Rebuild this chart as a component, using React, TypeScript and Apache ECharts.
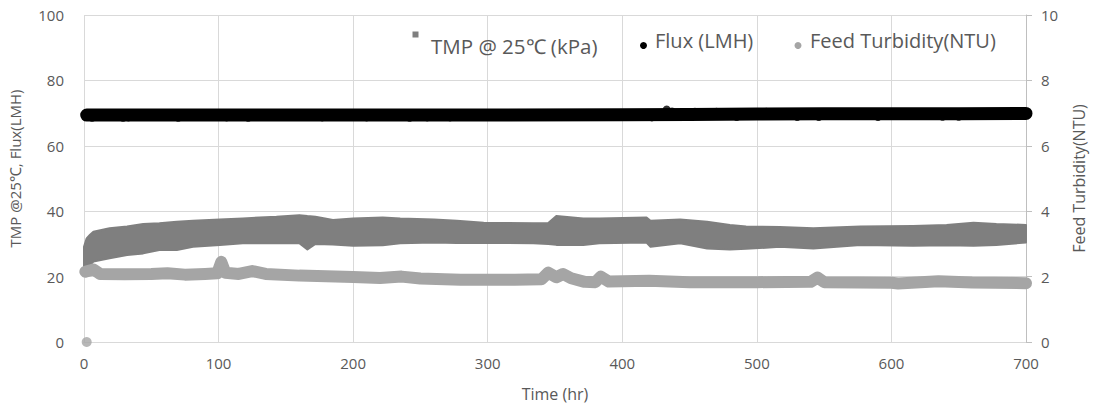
import React, { useEffect, useRef } from "react";
import * as echarts from "echarts";

// ---- data ----
const xTickValues = [0, 100, 200, 300, 400, 500, 600, 700];

// TMP @ 25℃ (kPa): dense scatter drawn as its upper / lower envelope
const tmpTime = [0, 2, 4.5, 7, 19, 32, 44, 56, 69, 81, 101, 118, 143, 160, 166, 172, 185, 200, 222, 235, 260, 277, 297, 334, 345, 351, 371, 383, 418, 421, 443, 463, 480, 492, 517, 542, 577, 616, 641, 661, 678, 700];
const tmpUpper = [29.1, 31.7, 32.8, 33.7, 34.8, 35.3, 36.1, 36.3, 36.8, 37.1, 37.5, 37.8, 38.3, 38.8, 38.5, 38.3, 37.3, 37.8, 38.1, 37.8, 37.5, 37.1, 36.5, 36.3, 36.4, 38.5, 37.8, 37.8, 38.1, 37.1, 37.5, 36.8, 35.8, 35.3, 35.2, 34.8, 35.3, 35.5, 35.8, 36.5, 36.1, 35.8];
const tmpLower = [21.5, 22.6, 23.5, 24.6, 25.6, 26.6, 27.1, 28.1, 28.1, 29.1, 29.7, 30.2, 30.2, 30.2, 28.3, 30.0, 29.8, 29.4, 29.6, 30.2, 30.4, 30.3, 30.3, 30.2, 30.0, 29.7, 29.7, 30.2, 30.4, 29.1, 30.2, 28.6, 28.3, 28.5, 29.1, 28.6, 29.7, 29.4, 29.6, 29.4, 29.7, 30.4];

// Flux (LMH)
const fluxTime = [2, 100, 200, 300, 400, 450, 500, 550, 600, 650, 700];
const fluxValues = [69.4, 69.4, 69.4, 69.4, 69.5, 69.6, 69.7, 69.8, 69.8, 69.8, 69.9];
// Flux points that stick out of the band
const fluxOffTime = [6, 29, 33, 70, 106, 122, 177, 210, 242, 255, 272, 422, 433, 437, 454, 470, 485, 507, 530, 546, 590, 638, 650];
const fluxOffValues = [68.6, 68.6, 68.7, 68.6, 68.7, 68.6, 68.7, 68.7, 68.6, 68.7, 68.7, 68.7, 71.1, 70.5, 70.4, 70.4, 68.8, 70.4, 68.8, 68.8, 68.8, 68.9, 68.9];

// Feed Turbidity (NTU)
const turbTime = [1, 7, 12, 30, 50, 62, 75, 90, 99, 102, 105, 115, 125, 135, 160, 180, 200, 220, 236, 250, 280, 320, 340, 345, 351, 356, 362, 372, 380, 384, 390, 420, 450, 500, 540, 545, 550, 600, 605, 635, 660, 700];
const turbValues = [2.15, 2.22, 2.08, 2.07, 2.08, 2.1, 2.06, 2.08, 2.1, 2.45, 2.12, 2.08, 2.17, 2.08, 2.03, 2.01, 1.99, 1.96, 2.0, 1.94, 1.9, 1.9, 1.92, 2.12, 1.98, 2.08, 1.95, 1.84, 1.83, 2.0, 1.85, 1.87, 1.83, 1.83, 1.84, 1.97, 1.83, 1.81, 1.79, 1.86, 1.82, 1.8];
const turbStartTime = [2];
const turbStartValues = [0];

const leftTicks = [0, 20, 40, 60, 80, 100];
const rightTicks = [0, 2, 4, 6, 8, 10];

const NAME_TMP = "TMP @ 25℃ (kPa)";
const NAME_FLUX = "Flux (LMH)";
const NAME_TURB = "Feed Turbidity(NTU)";

const FONT = "Open Sans";
const TXT = "#595959";
const GRID = "#d9d9d9";
const C_TMP = "#7f7f7f";
const C_FLUX = "#000000";
const C_TURB = "#a5a5a5";

const zip = (a: number[], b: number[]) => a.map((v, i) => [v, b[i]]);

function iconLegend(name: string, icon: string, size: number, left: number, top: number) {
  return {
    data: [{ name, icon }],
    left,
    top,
    padding: 0,
    itemWidth: size,
    itemHeight: size,
    selectedMode: false,
    formatter: () => " ",
    textStyle: { fontFamily: FONT, fontSize: 5, color: TXT },
  };
}

function textLegend(name: string, left: number, top: number, fontSize: number) {
  return {
    data: [{ name, icon: "none" }],
    left,
    top,
    padding: 0,
    itemWidth: 1,
    itemHeight: 1,
    selectedMode: false,
    textStyle: { fontFamily: FONT, fontSize, color: TXT },
  };
}

export default function App() {
  const ref = useRef<HTMLDivElement>(null);
  useEffect(() => {
    if (!ref.current) return;
    const chart = echarts.init(ref.current, undefined, { renderer: "svg" });
    const option: any = {
      animation: false,
      backgroundColor: "#ffffff",
      textStyle: { fontFamily: FONT },
      grid: { left: 84, right: 67, top: 15, bottom: 65, outerBoundsMode: "none", containLabel: false },
      legend: [
        iconLegend(NAME_TMP, "rect", 6, 412.5, 31.5),
        textLegend(NAME_TMP, 425, 35, 20.5),
        iconLegend(NAME_FLUX, "circle", 7, 640, 42),
        textLegend(NAME_FLUX, 649, 30, 20),
        iconLegend(NAME_TURB, "circle", 7, 794.5, 42),
        textLegend(NAME_TURB, 804, 30, 20),
      ],
      xAxis: {
        type: "value",
        min: xTickValues[0],
        max: xTickValues[xTickValues.length - 1],
        interval: 100,
        name: "Time (hr)",
        nameLocation: "middle",
        nameGap: 44,
        nameTextStyle: { fontFamily: FONT, fontSize: 16, color: TXT },
        axisLine: { show: true, lineStyle: { color: GRID, width: 1 } },
        axisTick: { show: false },
        axisLabel: { fontFamily: FONT, fontSize: 15, color: TXT, margin: 13 },
        splitLine: { show: true, lineStyle: { color: GRID, width: 1 } },
      },
      yAxis: [
        {
          type: "value",
          min: leftTicks[0],
          max: leftTicks[leftTicks.length - 1],
          interval: 20,
          name: "TMP @25℃, Flux(LMH)",
          nameLocation: "middle",
          nameGap: 62,
          nameRotate: 90,
          nameTextStyle: { fontFamily: FONT, fontSize: 15, color: TXT, padding: [0, 0, 0, 20] },
          axisLine: { show: false },
          axisTick: { show: false },
          axisLabel: { fontFamily: FONT, fontSize: 15, color: TXT, margin: 20 },
          splitLine: { show: true, lineStyle: { color: GRID, width: 1 } },
        },
        {
          type: "value",
          position: "right",
          min: rightTicks[0],
          max: rightTicks[rightTicks.length - 1],
          interval: 2,
          name: "Feed Turbidity(NTU)",
          nameLocation: "middle",
          nameGap: 45,
          nameRotate: 90,
          nameTextStyle: { fontFamily: FONT, fontSize: 16, color: TXT },
          axisLine: { show: true, lineStyle: { color: "#bfbfbf", width: 1 } },
          axisTick: { show: true, length: 6, inside: false, lineStyle: { color: "#bfbfbf" } },
          axisLabel: { fontFamily: FONT, fontSize: 15, color: TXT, margin: 15 },
          splitLine: { show: false },
        },
      ],
      series: [
        {
          name: NAME_TMP,
          type: "custom",
          data: tmpTime.map((t, i) => [t, tmpLower[i], tmpUpper[i]]),
          encode: { x: 0, y: [1, 2] },
          itemStyle: { color: C_TMP },
          z: 2,
          renderItem: (params: any, api: any) => {
            if (params.dataIndex !== 0) return null;
            const pts: number[][] = [];
            for (let i = 0; i < tmpTime.length; i++) pts.push(api.coord([tmpTime[i], tmpUpper[i]]));
            for (let i = tmpTime.length - 1; i >= 0; i--) pts.push(api.coord([tmpTime[i], tmpLower[i]]));
            return {
              type: "polygon",
              shape: { points: pts },
              style: { fill: C_TMP, stroke: C_TMP, lineWidth: 2, lineJoin: "round" },
            };
          },
        },
        {
          name: NAME_FLUX,
          type: "line",
          data: zip(fluxTime, fluxValues),
          symbol: "none",
          clip: false,
          lineStyle: { color: C_FLUX, width: 13, cap: "round", join: "round" },
          itemStyle: { color: C_FLUX },
          z: 3,
        },
        {
          name: "fluxPoints",
          type: "scatter",
          data: zip(fluxOffTime, fluxOffValues),
          symbol: "circle",
          symbolSize: 8,
          clip: false,
          itemStyle: { color: C_FLUX },
          z: 3,
        },
        {
          name: NAME_TURB,
          type: "line",
          yAxisIndex: 1,
          data: zip(turbTime, turbValues),
          symbol: "none",
          clip: false,
          lineStyle: { color: C_TURB, width: 12, cap: "round", join: "round" },
          itemStyle: { color: C_TURB },
          z: 4,
        },
        {
          name: "turbStart",
          type: "scatter",
          yAxisIndex: 1,
          data: zip(turbStartTime, turbStartValues),
          symbol: "circle",
          symbolSize: 10,
          clip: false,
          itemStyle: { color: C_TURB },
          z: 4,
        },
      ],
    };
    chart.setOption(option);
    return () => chart.dispose();
  }, []);
  return (
    <div
      ref={ref}
      style={{ position: "fixed", left: 0, top: 0, width: 1093, height: 407, background: "#fff" }}
    />
  );
}
